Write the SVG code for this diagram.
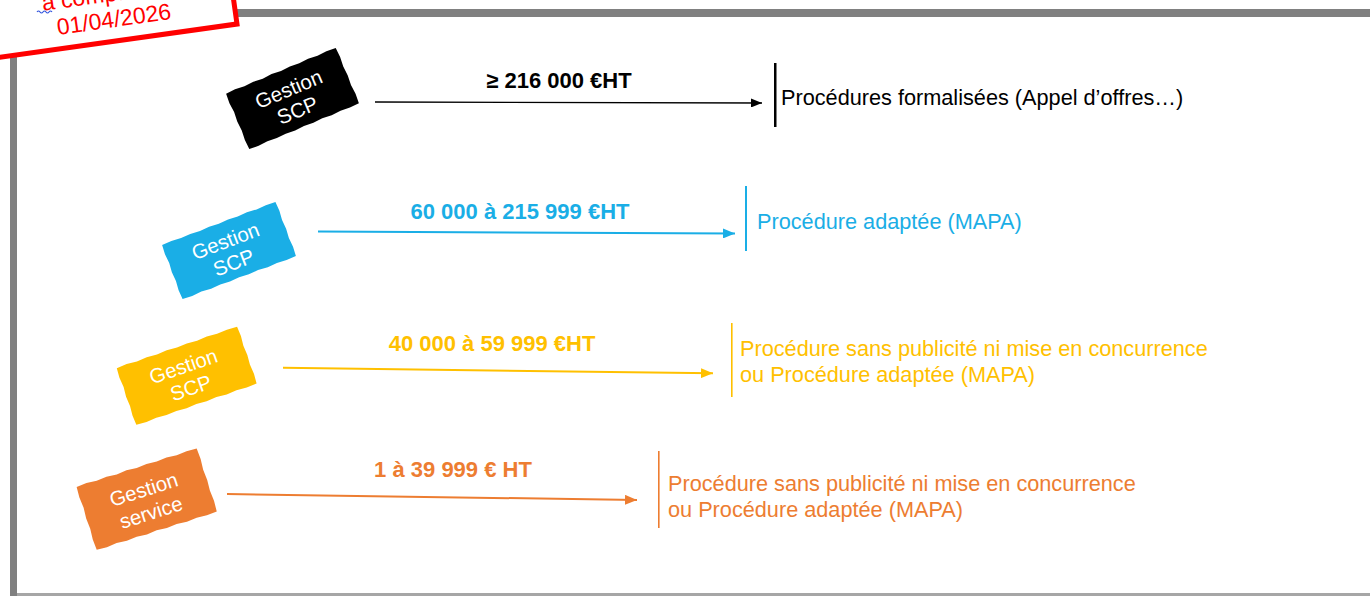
<svg xmlns="http://www.w3.org/2000/svg" width="1370" height="596" viewBox="0 0 1370 596">
<style>
.lbl{font-family:"Liberation Sans",Arial,sans-serif;font-weight:bold;font-size:22px;text-anchor:middle}
.proc{font-family:"Liberation Sans",Arial,sans-serif;font-size:21.7px}
.nt{font-family:"Liberation Sans",Arial,sans-serif;font-size:20.5px;fill:#fff;text-anchor:middle}
.k{fill:#000}.b{fill:#1AAEE6}.y{fill:#FFC000}.o{fill:#ED7D31}
</style>
<defs>
<path id="torn" d="M-60,-30 L-50,-30.6 L-40,-29.8 L-30,-30.5 L-20,-29.7 L-10,-30.6 L0,-29.8 L10,-30.5 L20,-29.8 L30,-30.6 L40,-29.8 L50,-30.5 L60,-30 L60.6,-20 L59.8,-10 L60.5,0 L59.8,10 L60.6,20 L60,30 L50,30.5 L40,29.8 L30,30.6 L20,29.8 L10,30.5 L0,29.7 L-10,30.6 L-20,29.8 L-30,30.5 L-40,29.7 L-50,30.6 L-60,30 L-60.6,20 L-59.8,10 L-60.5,0 L-59.7,-10 L-60.6,-20 Z"/>
<marker id="ak" markerUnits="userSpaceOnUse" markerWidth="11" markerHeight="9" refX="11" refY="4.5" orient="auto"><path d="M0,0 L11,4.5 L0,9 Z" fill="#000"/></marker>
<marker id="ab" markerUnits="userSpaceOnUse" markerWidth="12" markerHeight="10" refX="12" refY="5" orient="auto"><path d="M0,0 L12,5 L0,10 Z" fill="#1AAEE6"/></marker>
<marker id="ay" markerUnits="userSpaceOnUse" markerWidth="12" markerHeight="10" refX="12" refY="5" orient="auto"><path d="M0,0 L12,5 L0,10 Z" fill="#FFC000"/></marker>
<marker id="ao" markerUnits="userSpaceOnUse" markerWidth="12" markerHeight="10" refX="12" refY="5" orient="auto"><path d="M0,0 L12,5 L0,10 Z" fill="#ED7D31"/></marker>
</defs>
<rect width="1370" height="596" fill="#fff"/>
<g id="frame">
<rect x="10" y="9" width="1360" height="8" fill="#808080"/>
<rect x="10" y="9" width="7" height="587" fill="#808080"/>
<rect x="17" y="593" width="1353" height="3" fill="#a6a6a6"/>
</g>
<g id="stamp">
<rect x="-262" y="-90" width="262" height="90" transform="translate(237,24) rotate(-8)" fill="#fff" stroke="#FF0000" stroke-width="5"/>
<g transform="translate(115,27) rotate(-8)" font-family="'Liberation Sans',Arial,sans-serif" font-size="23" fill="#FF0000" text-anchor="middle">
<text x="-2" y="-26">à compter du</text>
<text x="0" y="0">01/04/2026</text>
</g>
<path d="M37,12 q1.5,-2 3,0 t3,0 t3,0 t3,0 t3,0" fill="none" stroke="#3355dd" stroke-width="1.2"/>
</g>
<g id="connectors" fill="none">
<line x1="375" y1="102" x2="762" y2="103" stroke="#000" stroke-width="1.4" marker-end="url(#ak)"/>
<line x1="318" y1="231.5" x2="735" y2="233.5" stroke="#1AAEE6" stroke-width="2" marker-end="url(#ab)"/>
<line x1="283" y1="367.7" x2="713" y2="373.3" stroke="#FFC000" stroke-width="2" marker-end="url(#ay)"/>
<line x1="227" y1="494" x2="637" y2="500" stroke="#ED7D31" stroke-width="2" marker-end="url(#ao)"/>
</g>
<g id="node-black">
<use href="#torn" class="k" transform="translate(292.5,98.5) rotate(-22.7) scale(0.99,1)"/>
<g transform="translate(292.5,98.5) rotate(-22.7)"><text class="nt" x="0" y="-3">Gestion</text><text class="nt" x="0" y="20">SCP</text></g>
</g>
<g id="node-blue">
<use href="#torn" class="b" transform="translate(229,250.5) rotate(-20.8) scale(1.01,0.96)"/>
<g transform="translate(229,250.5) rotate(-20.8)"><text class="nt" x="0" y="-3">Gestion</text><text class="nt" x="0" y="20">SCP</text></g>
</g>
<g id="node-yellow">
<use href="#torn" class="y" transform="translate(186.7,375.8) rotate(-19) scale(1.06,1)"/>
<g transform="translate(186.7,375.8) rotate(-19)"><text class="nt" x="0" y="-3">Gestion</text><text class="nt" x="0" y="20">SCP</text></g>
</g>
<g id="node-orange">
<use href="#torn" class="o" transform="translate(146.7,499.2) rotate(-17.7) scale(1.05,1.1)"/>
<g transform="translate(146.7,499.2) rotate(-17.7)"><text class="nt" x="0" y="-3">Gestion</text><text class="nt" x="0" y="21">service</text></g>
</g>
<g id="threshold-1">
<text class="lbl k" x="559" y="88">≥ 216 000 €HT</text>
<rect x="774" y="63" width="2.5" height="64" fill="#000"/>
<text class="proc k" x="781" y="105">Procédures formalisées (Appel d’offres…)</text>
</g>
<g id="threshold-2">
<text class="lbl b" x="520" y="219">60 000 à 215 999 €HT</text>
<rect x="745" y="186" width="2" height="65" fill="#1AAEE6"/>
<text class="proc b" x="757" y="229">Procédure adaptée (MAPA)</text>
</g>
<g id="threshold-3">
<text class="lbl y" x="492" y="351">40 000 à 59 999 €HT</text>
<rect x="731" y="323" width="1.6" height="74" fill="#FFC000"/>
<text class="proc y" x="740" y="356">Procédure sans publicité ni mise en concurrence</text>
<text class="proc y" x="740" y="382">ou Procédure adaptée (MAPA)</text>
</g>
<g id="threshold-4">
<text class="lbl o" x="453" y="477">1 à 39 999 € HT</text>
<rect x="658" y="451" width="1.6" height="77" fill="#ED7D31"/>
<text class="proc o" x="668" y="491">Procédure sans publicité ni mise en concurrence</text>
<text class="proc o" x="668" y="517">ou Procédure adaptée (MAPA)</text>
</g>
</svg>
